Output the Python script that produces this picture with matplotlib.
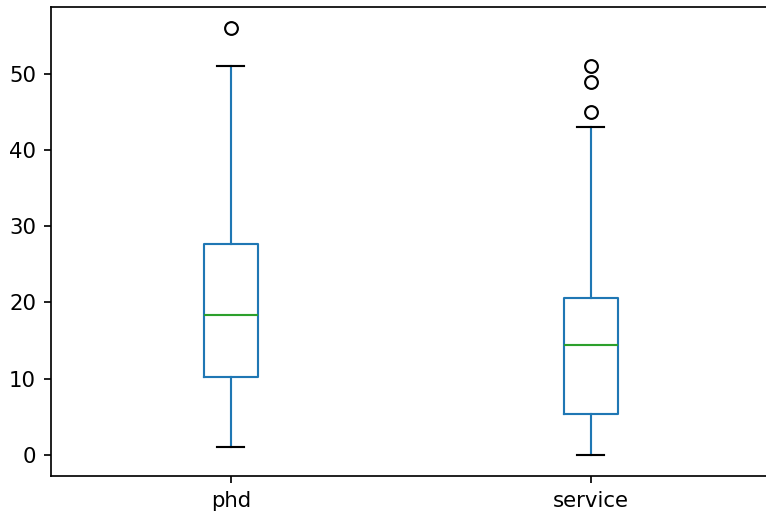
import matplotlib
matplotlib.use("Agg")
import matplotlib.pyplot as plt

# values
labels = ["phd", "service"]
whisker_low = [1, 0]
q1 = [10.2, 5.4]
median = [18.4, 14.4]
q3 = [27.7, 20.6]
whisker_high = [51, 43]
outliers = [[56], [45, 49, 51]]

stats = []
for i in range(len(labels)):
    stats.append({
        "label": labels[i],
        "whislo": whisker_low[i],
        "q1": q1[i],
        "med": median[i],
        "q3": q3[i],
        "whishi": whisker_high[i],
        "fliers": outliers[i],
    })

dpi = 153
fig = plt.figure(figsize=(766 / dpi, 514 / dpi), dpi=dpi)
# the reference is cropped: right spine falls just outside the picture
ax = fig.add_axes([0.0666, 0.0739, 0.9395, 0.9125])

ax.bxp(
    stats,
    boxprops=dict(color="C0"),
    whiskerprops=dict(color="C0"),
    medianprops=dict(color="C2"),
    capprops=dict(color="k"),
    flierprops=dict(marker="o", markerfacecolor="none", markeredgecolor="k"),
)
ax.set_ylim(-2.8, 58.8)
ax.set_yticks([0, 10, 20, 30, 40, 50])

fig.savefig("out.png", dpi=dpi)
